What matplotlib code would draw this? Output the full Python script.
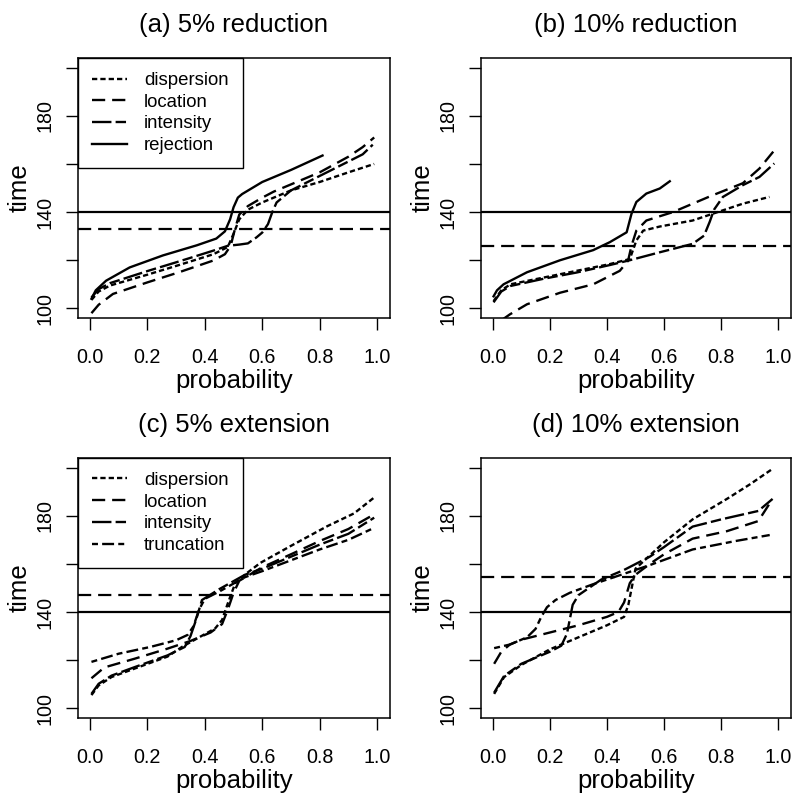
import matplotlib
matplotlib.use("Agg")
import matplotlib.pyplot as plt

plt.rcParams["font.family"] = ["Liberation Sans", "DejaVu Sans"]
plt.rcParams["lines.scale_dashes"] = False

# ---- data (probability, time) ----
# (a) 5% reduction
a_disp_p = [0.005, 0.03, 0.07, 0.2, 0.31, 0.43, 0.48, 0.5, 0.52, 0.55, 0.6, 0.7, 0.8, 0.9, 0.99]
a_disp_t = [103.5, 107.0, 109.5, 114.0, 118.0, 122.5, 125.5, 131.0, 137.0, 141.0, 144.0, 149.0, 152.5, 156.5, 160.0]
a_loc_p = [0.005, 0.03, 0.08, 0.2, 0.31, 0.43, 0.47, 0.49, 0.505, 0.52, 0.55, 0.6, 0.64, 0.7, 0.8, 0.9, 0.95, 0.99]
a_loc_t = [98.0, 101.5, 106.0, 110.8, 115.0, 119.9, 122.5, 126.0, 133.0, 139.0, 142.5, 146.0, 148.5, 151.5, 156.5, 163.0, 167.0, 171.0]
a_int_p = [0.005, 0.03, 0.07, 0.2, 0.31, 0.43, 0.48, 0.52, 0.55, 0.58, 0.6, 0.62, 0.635, 0.65, 0.7, 0.8, 0.9, 0.95, 0.985]
a_int_t = [104.5, 108.0, 110.5, 115.5, 119.5, 124.0, 126.0, 126.5, 127.0, 129.5, 131.5, 135.0, 140.0, 144.0, 149.0, 155.0, 161.0, 164.0, 168.0]
a_rej_p = [0.005, 0.02, 0.056, 0.138, 0.254, 0.372, 0.44, 0.47, 0.488, 0.5, 0.515, 0.53, 0.6, 0.7, 0.81]
a_rej_t = [104.0, 107.5, 111.5, 117.0, 122.0, 126.2, 129.0, 132.0, 137.0, 142.0, 146.0, 147.5, 152.5, 157.5, 163.5]

# (b) 10% reduction
b_disp_p = [0.003, 0.03, 0.062, 0.178, 0.294, 0.41, 0.48, 0.503, 0.527, 0.585, 0.7, 0.77, 0.876, 0.969]
b_disp_t = [103.0, 107.5, 110.0, 112.8, 115.6, 118.4, 120.5, 128.2, 132.3, 134.0, 136.5, 139.3, 143.5, 146.3]
b_loc_p = [0.03, 0.06, 0.12, 0.236, 0.352, 0.445, 0.474, 0.486, 0.503, 0.538, 0.631, 0.76, 0.876, 0.934, 0.992]
b_loc_t = [95.0, 97.5, 101.7, 106.5, 110.0, 115.6, 119.8, 126.0, 132.3, 136.5, 140.0, 146.5, 152.0, 158.1, 166.5]
b_int_p = [0.003, 0.03, 0.062, 0.178, 0.294, 0.41, 0.48, 0.585, 0.7, 0.74, 0.76, 0.775, 0.806, 0.876, 0.934, 0.986]
b_int_t = [102.5, 107.0, 109.3, 112.3, 114.9, 118.0, 120.0, 123.3, 126.8, 130.2, 136.0, 141.0, 146.3, 151.2, 154.6, 160.2]
b_rej_p = [0.003, 0.015, 0.038, 0.12, 0.236, 0.352, 0.41, 0.469, 0.486, 0.503, 0.538, 0.585, 0.62]
b_rej_t = [105.0, 107.5, 110.0, 115.0, 120.0, 124.2, 127.5, 131.6, 139.3, 144.2, 147.7, 149.8, 152.8]

# (c) 5% extension
c_disp_p = [0.005, 0.03, 0.075, 0.155, 0.27, 0.32, 0.38, 0.436, 0.46, 0.48, 0.506, 0.55, 0.593, 0.7, 0.827, 0.92, 0.99]
c_disp_t = [105.5, 109.5, 113.0, 116.5, 121.5, 125.5, 129.5, 133.2, 136.7, 143.6, 152.0, 156.5, 160.4, 167.5, 175.7, 181.0, 187.6]
c_loc_p = [0.005, 0.05, 0.155, 0.27, 0.35, 0.42, 0.46, 0.48, 0.5, 0.52, 0.6, 0.7, 0.8, 0.9, 0.99]
c_loc_t = [112.5, 117.0, 120.6, 124.8, 128.0, 131.5, 135.0, 141.0, 148.0, 153.0, 158.6, 164.0, 169.5, 174.5, 180.6]
c_int_p = [0.005, 0.03, 0.075, 0.155, 0.27, 0.33, 0.35, 0.37, 0.39, 0.45, 0.54, 0.6, 0.7, 0.8, 0.9, 0.99]
c_int_t = [106.0, 110.2, 113.6, 117.1, 122.0, 125.5, 130.0, 137.0, 145.0, 149.5, 155.5, 158.0, 163.0, 168.0, 172.5, 179.2]
c_trn_p = [0.005, 0.1, 0.21, 0.3, 0.34, 0.36, 0.38, 0.4, 0.45, 0.54, 0.6, 0.7, 0.8, 0.9, 0.99]
c_trn_t = [119.3, 122.7, 125.5, 128.3, 130.5, 134.0, 141.0, 145.5, 148.5, 154.5, 157.0, 161.5, 166.0, 170.0, 175.0]

# (d) 10% extension
d_disp_p = [0.005, 0.04, 0.1, 0.2, 0.3, 0.4, 0.46, 0.475, 0.49, 0.5, 0.6, 0.7, 0.82, 0.9, 0.98]
d_disp_t = [106.0, 113.0, 118.0, 124.5, 129.5, 134.5, 138.0, 143.0, 152.0, 158.0, 169.0, 178.5, 187.0, 193.0, 199.5]
d_loc_p = [0.005, 0.03, 0.06, 0.1, 0.2, 0.3, 0.4, 0.44, 0.46, 0.48, 0.5, 0.55, 0.6, 0.7, 0.82, 0.93, 0.98]
d_loc_t = [118.5, 123.5, 126.5, 128.5, 131.5, 134.5, 138.0, 140.0, 144.0, 152.0, 155.5, 160.0, 164.0, 170.5, 173.6, 177.8, 187.0]
d_int_p = [0.005, 0.04, 0.1, 0.2, 0.24, 0.26, 0.27, 0.28, 0.3, 0.38, 0.46, 0.55, 0.6, 0.7, 0.8, 0.93, 0.98]
d_int_t = [106.5, 113.5, 118.5, 123.5, 126.0, 131.0, 137.0, 143.0, 147.0, 153.5, 157.5, 163.0, 167.0, 175.5, 178.5, 182.0, 187.0]
d_trn_p = [0.005, 0.06, 0.12, 0.15, 0.17, 0.19, 0.22, 0.27, 0.35, 0.45, 0.55, 0.7, 0.85, 0.97]
d_trn_t = [125.0, 126.5, 129.5, 133.0, 138.0, 142.0, 145.0, 148.0, 151.5, 155.5, 159.5, 166.0, 169.5, 172.0]

titles = ["(a) 5% reduction", "(b) 10% reduction", "(c) 5% extension", "(d) 10% extension"]
target_time = 140
dashed_level = [133, 126, 147, 154.4]
x_ticks = [0.0, 0.2, 0.4, 0.6, 0.8, 1.0]
y_ticks = [100, 120, 140, 160, 180, 200]
y_ticklabels = ["100", "", "140", "", "180", ""]

styles = {
    "dispersion": (0, (3.8, 2.2)),
    "location": (0, (9.5, 5.0)),
    "intensity": (0, (14.0, 3.0, 7.5, 3.0)),
    "truncation": (0, (4.3, 3.0, 8.6, 3.0)),
    "rejection": "-",
}

panels = [
    [("dispersion", a_disp_p, a_disp_t), ("location", a_loc_p, a_loc_t),
     ("intensity", a_int_p, a_int_t), ("rejection", a_rej_p, a_rej_t)],
    [("dispersion", b_disp_p, b_disp_t), ("location", b_loc_p, b_loc_t),
     ("intensity", b_int_p, b_int_t), ("rejection", b_rej_p, b_rej_t)],
    [("dispersion", c_disp_p, c_disp_t), ("location", c_loc_p, c_loc_t),
     ("intensity", c_int_p, c_int_t), ("truncation", c_trn_p, c_trn_t)],
    [("dispersion", d_disp_p, d_disp_t), ("location", d_loc_p, d_loc_t),
     ("intensity", d_int_p, d_int_t), ("truncation", d_trn_p, d_trn_t)],
]
show_legend = [True, False, True, False]

boxes = [
    [0.0977, 0.600, 0.391, 0.327],
    [0.6024, 0.600, 0.389, 0.327],
    [0.0977, 0.0969, 0.391, 0.327],
    [0.6024, 0.0969, 0.389, 0.327],
]

fig = plt.figure(figsize=(7.98, 7.95), dpi=100)

for i in range(4):
    ax = fig.add_axes(boxes[i])
    for name, p, t in panels[i]:
        ax.plot(p, t, color="black", lw=1.7, linestyle=styles[name], label=name)
    ax.axhline(target_time, color="black", lw=1.6)
    ax.axhline(dashed_level[i], color="black", lw=1.6, linestyle=styles["location"])

    ax.set_xlim(-0.042, 1.045)
    ax.set_ylim(96, 204)
    ax.set_xticks(x_ticks)
    ax.set_xticklabels(["%.1f" % v for v in x_ticks])
    ax.set_yticks(y_ticks)
    ax.set_yticklabels(y_ticklabels, rotation=90, va="center")
    ax.tick_params(axis="both", direction="out", length=8.6, width=1.0, labelsize=14.2)
    ax.tick_params(axis="x", pad=13)
    ax.tick_params(axis="y", pad=8)
    for s in ax.spines.values():
        s.set_linewidth(1.1)

    ax.set_title(titles[i], fontsize=18.5, pad=19)
    ax.set_xlabel("probability", fontsize=18.5, labelpad=1.5)
    ax.set_ylabel("time", fontsize=18.5, labelpad=3)

    if show_legend[i]:
        leg = ax.legend(loc="upper left", borderaxespad=0, fontsize=13.4,
                        fancybox=False, edgecolor="black", framealpha=1,
                        handlelength=1.9, handletextpad=0.9, labelspacing=0.25,
                        borderpad=0.75)
        leg.get_frame().set_linewidth(1.0)

fig.savefig("out.png", dpi=100)
